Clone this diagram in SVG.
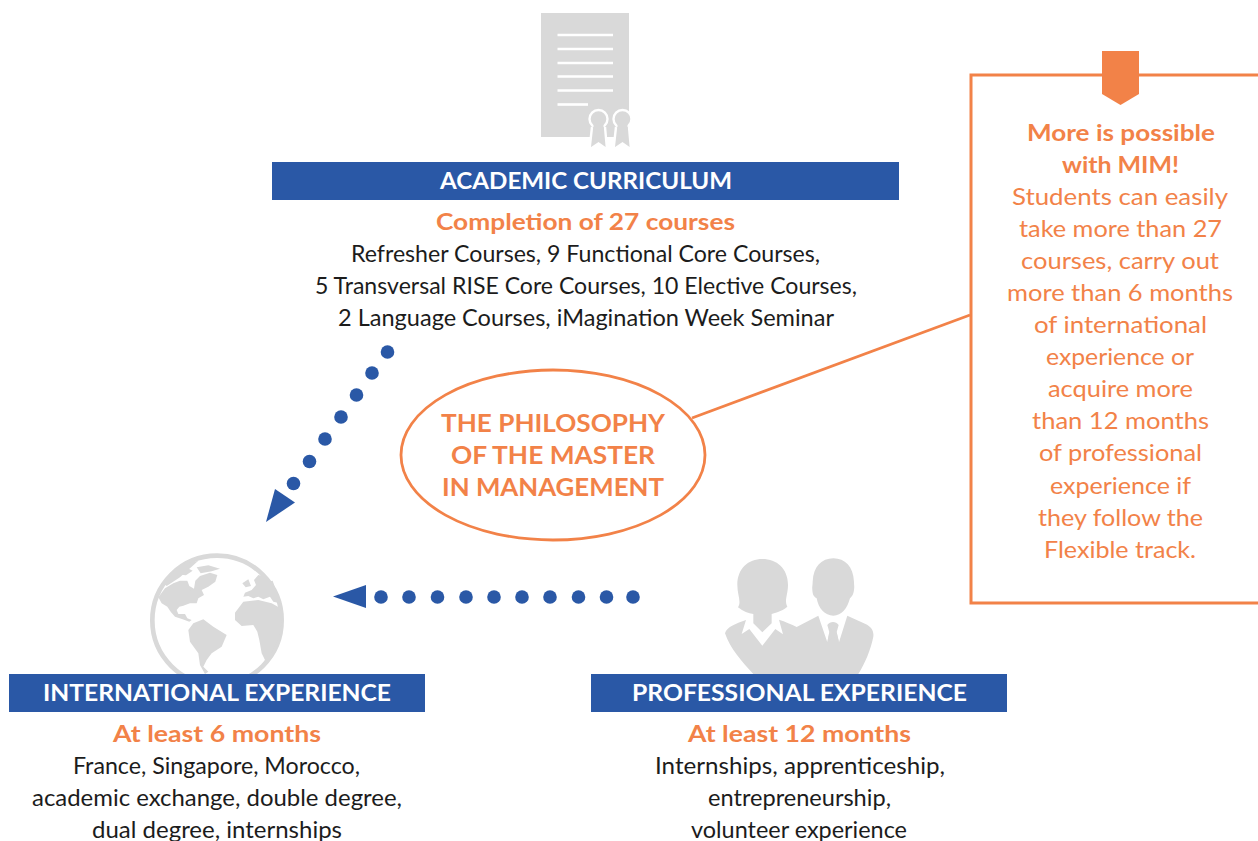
<svg xmlns="http://www.w3.org/2000/svg" width="1258" height="841" viewBox="0 0 1258 841">
<style>
text{font-family:"Lato","Noto Sans","Liberation Sans",sans-serif;font-size:23px;text-anchor:middle;fill:#1c1c1c}
.o{fill:#F28248}
.b{font-weight:700}
.w{fill:#fff;font-weight:700}
.bar{fill:#2A58A6}
.g{fill:#D9D9D9}
.dot{fill:#2A58A6}
</style>
<rect width="1258" height="841" fill="#fff"/>
<g id="connectors">
<g class="dot"><circle cx="387.500" cy="352" r="6.800"/><circle cx="372" cy="373" r="6.800"/><circle cx="356.500" cy="395" r="6.800"/><circle cx="341" cy="417" r="6.800"/><circle cx="325" cy="439" r="6.800"/><circle cx="309.500" cy="461.500" r="6.800"/><circle cx="293.500" cy="483.500" r="6.800"/>
<polygon points="275,489 295,502.500 266,522"/>
<circle cx="381" cy="597" r="6.800"/><circle cx="409" cy="597" r="6.800"/><circle cx="437.500" cy="597" r="6.800"/><circle cx="466" cy="597" r="6.800"/><circle cx="494" cy="597" r="6.800"/><circle cx="522" cy="597" r="6.800"/><circle cx="550" cy="597" r="6.800"/><circle cx="578.500" cy="597" r="6.800"/><circle cx="606.500" cy="597" r="6.800"/><circle cx="633" cy="597" r="6.800"/>
<polygon points="333,596.500 366,585 366,608"/></g>
<line x1="692" y1="418" x2="970" y2="315" stroke="#F28248" stroke-width="2.800"/>
</g>
<g id="academic">
<g id="diploma"><rect class="g" x="541" y="13" width="88" height="124"/>
<g stroke="#fff" stroke-width="2.600"><line x1="557.500" y1="35" x2="613" y2="35"/><line x1="557.500" y1="49" x2="613" y2="49"/><line x1="557.500" y1="63" x2="613" y2="63"/><line x1="557.500" y1="76.500" x2="613" y2="76.500"/><line x1="557.500" y1="90.500" x2="613" y2="90.500"/><line x1="557.500" y1="104.500" x2="588" y2="104.500"/></g>
<g class="g" stroke="#fff" stroke-width="2.400">
<circle cx="598.500" cy="119" r="9"/><path d="M592,127 L589.500,149.500 L598.500,143.500 L607,149.500 L605,127"/>
<circle cx="622.500" cy="119" r="9"/><path d="M616,127 L613.500,149.500 L622.500,143.500 L631,149.500 L629,127"/></g>
<rect class="g" x="593.500" y="122" width="10" height="8"/><rect class="g" x="617.500" y="122" width="10" height="8"/></g>
<rect class="bar" x="272" y="162" width="627" height="38"/>
<text class="w" x="586" y="189" textLength="292" lengthAdjust="spacingAndGlyphs">ACADEMIC CURRICULUM</text>
<text class="o b" x="585.500" y="230" textLength="299" lengthAdjust="spacingAndGlyphs">Completion of 27 courses</text>
<text x="585.500" y="262" textLength="469" lengthAdjust="spacingAndGlyphs">Refresher Courses, 9 Functional Core Courses,</text>
<text x="586" y="294" textLength="542" lengthAdjust="spacingAndGlyphs">5 Transversal RISE Core Courses, 10 Elective Courses,</text>
<text x="586" y="326" textLength="496" lengthAdjust="spacingAndGlyphs">2 Language Courses, iMagination Week Seminar</text>
</g>
<g id="philosophy">
<ellipse cx="553" cy="455" rx="152" ry="85" fill="#fff" stroke="#F28248" stroke-width="2.800"/>
<text class="o b" x="553" y="432" style="font-size:25px" textLength="224" lengthAdjust="spacingAndGlyphs">THE PHILOSOPHY</text>
<text class="o b" x="553" y="464" style="font-size:25px" textLength="204" lengthAdjust="spacingAndGlyphs">OF THE MASTER</text>
<text class="o b" x="553" y="496" style="font-size:25px" textLength="222" lengthAdjust="spacingAndGlyphs">IN MANAGEMENT</text>
</g>
<g id="more">
<path d="M1260,75 H971 V603 H1260" fill="none" stroke="#F28248" stroke-width="3"/>
<polygon class="o" points="1102,51 1139,51 1139,94 1120.500,105 1102,94"/>
<text class="o b" x="1121" y="141" textLength="188" lengthAdjust="spacingAndGlyphs">More is possible</text>
<text class="o b" x="1120.500" y="173" textLength="117" lengthAdjust="spacingAndGlyphs">with MIM!</text>
<text class="o" x="1120" y="205" textLength="216" lengthAdjust="spacingAndGlyphs">Students can easily</text>
<text class="o" x="1120.500" y="237" textLength="203" lengthAdjust="spacingAndGlyphs">take more than 27</text>
<text class="o" x="1120" y="269" textLength="198" lengthAdjust="spacingAndGlyphs">courses, carry out</text>
<text class="o" x="1120" y="301" textLength="226" lengthAdjust="spacingAndGlyphs">more than 6 months</text>
<text class="o" x="1120.500" y="333" textLength="173" lengthAdjust="spacingAndGlyphs">of international</text>
<text class="o" x="1120" y="365" textLength="148" lengthAdjust="spacingAndGlyphs">experience or</text>
<text class="o" x="1120.500" y="397" textLength="145" lengthAdjust="spacingAndGlyphs">acquire more</text>
<text class="o" x="1120.500" y="429" textLength="177" lengthAdjust="spacingAndGlyphs">than 12 months</text>
<text class="o" x="1120.500" y="461" textLength="163" lengthAdjust="spacingAndGlyphs">of professional</text>
<text class="o" x="1120.500" y="494" textLength="141" lengthAdjust="spacingAndGlyphs">experience if</text>
<text class="o" x="1120.500" y="526" textLength="165" lengthAdjust="spacingAndGlyphs">they follow the</text>
<text class="o" x="1120" y="558" textLength="152" lengthAdjust="spacingAndGlyphs">Flexible track.</text>
</g>
<g id="international">
<g id="globe" transform="translate(130 540) scale(.3333)">
<circle cx="261" cy="241" r="194" fill="none" stroke="#D9D9D9" stroke-width="14"/>
<path class="g" d="M85,172 L105,145 L130,130 L150,122 L172,122 L178,138 L192,146 L196,122 L210,108 L240,98 L262,105 L256,125 L235,140 L215,150 L222,165 L205,175 L200,190 L180,190 L160,197 L148,200 L140,210 L145,222 L165,222 L172,235 L185,240 L178,245 L158,238 L135,230 L122,215 L112,200 L95,190Z"/>
<path class="g" d="M150,92 L172,84 L188,92 L168,106 L152,104Z M200,82 L235,76 L270,86 L245,94 L212,100Z M172,152 l8,-4 l3,7 l-8,4Z M100,130 L150,75 L205,62 L150,112 L110,138Z"/>
<path class="g" d="M175,270 L190,250 L220,238 L250,260 L290,285 L275,320 L245,340 L230,360 L220,380 L235,395 L225,402 L210,375 L205,340 L180,305Z"/>
<path class="g" d="M315,218 L340,185 L385,180 L425,190 L452,205 L456,241 L445,300 L420,350 L392,386 L405,360 L395,340 L388,300 L382,275 L370,255 L335,258 L315,240Z"/>
<path class="g" d="M340,170 L345,158 L365,150 L378,135 L372,120 L385,105 L400,108 L410,125 L428,122 L445,172 L450,190 L430,185 L420,170 L400,178 L385,170 L370,175 L355,168Z M337,130 L355,118 L363,138 L347,142Z"/>
</g>
<rect class="bar" x="9" y="674" width="416" height="38"/>
<text class="w" x="217" y="701" textLength="348" lengthAdjust="spacingAndGlyphs">INTERNATIONAL EXPERIENCE</text>
<text class="o b" x="217" y="742" textLength="208" lengthAdjust="spacingAndGlyphs">At least 6 months</text>
<text x="216.500" y="774" textLength="287" lengthAdjust="spacingAndGlyphs">France, Singapore, Morocco,</text>
<text x="217" y="806" textLength="370" lengthAdjust="spacingAndGlyphs">academic exchange, double degree,</text>
<text x="217" y="838" textLength="250" lengthAdjust="spacingAndGlyphs">dual degree, internships</text>
</g>
<g id="professional">
<g id="people" transform="translate(710 545) scale(.3333)">
<path class="g" d="M82,120 C82,70 115,42 157,42 C200,42 234,70 234,120 C234,150 222,165 232,185 C215,200 190,205 185,207 L185,235 L157,262 L130,235 L130,207 C115,205 100,200 84,187 C95,170 82,150 82,120Z"/>
<path class="g" d="M45,265 C50,245 80,235 108,225 L95,267 L118,252 L157,302 L196,252 L219,268 L207,224 C225,230 245,238 260,246 L325,212 L352,292 L358,262 L352,240 C360,228 378,228 386,240 L380,262 L387,292 L412,212 L465,236 C485,245 492,258 490,275 C482,315 465,355 445,387 L130,387 C95,350 60,310 45,265Z"/>
<path class="g" d="M308,110 C310,65 335,40 370,40 C405,40 430,65 432,110 C432,120 434,125 432,135 C430,150 425,155 420,160 C412,190 395,212 370,212 C345,212 325,190 320,160 C312,155 308,150 307,135 C306,125 308,120 308,110Z"/>
<path class="g" d="M358,262 L380,262 L387,292 L370,272 L352,292Z"/>
</g>
<rect class="bar" x="591" y="674" width="416" height="38"/>
<text class="w" x="799.500" y="701" textLength="335" lengthAdjust="spacingAndGlyphs">PROFESSIONAL EXPERIENCE</text>
<text class="o b" x="799.500" y="742" textLength="223" lengthAdjust="spacingAndGlyphs">At least 12 months</text>
<text x="800" y="774" textLength="290" lengthAdjust="spacingAndGlyphs">Internships, apprenticeship,</text>
<text x="799.500" y="806" textLength="183" lengthAdjust="spacingAndGlyphs">entrepreneurship,</text>
<text x="799" y="838" textLength="216" lengthAdjust="spacingAndGlyphs">volunteer experience</text>
</g>
</svg>
